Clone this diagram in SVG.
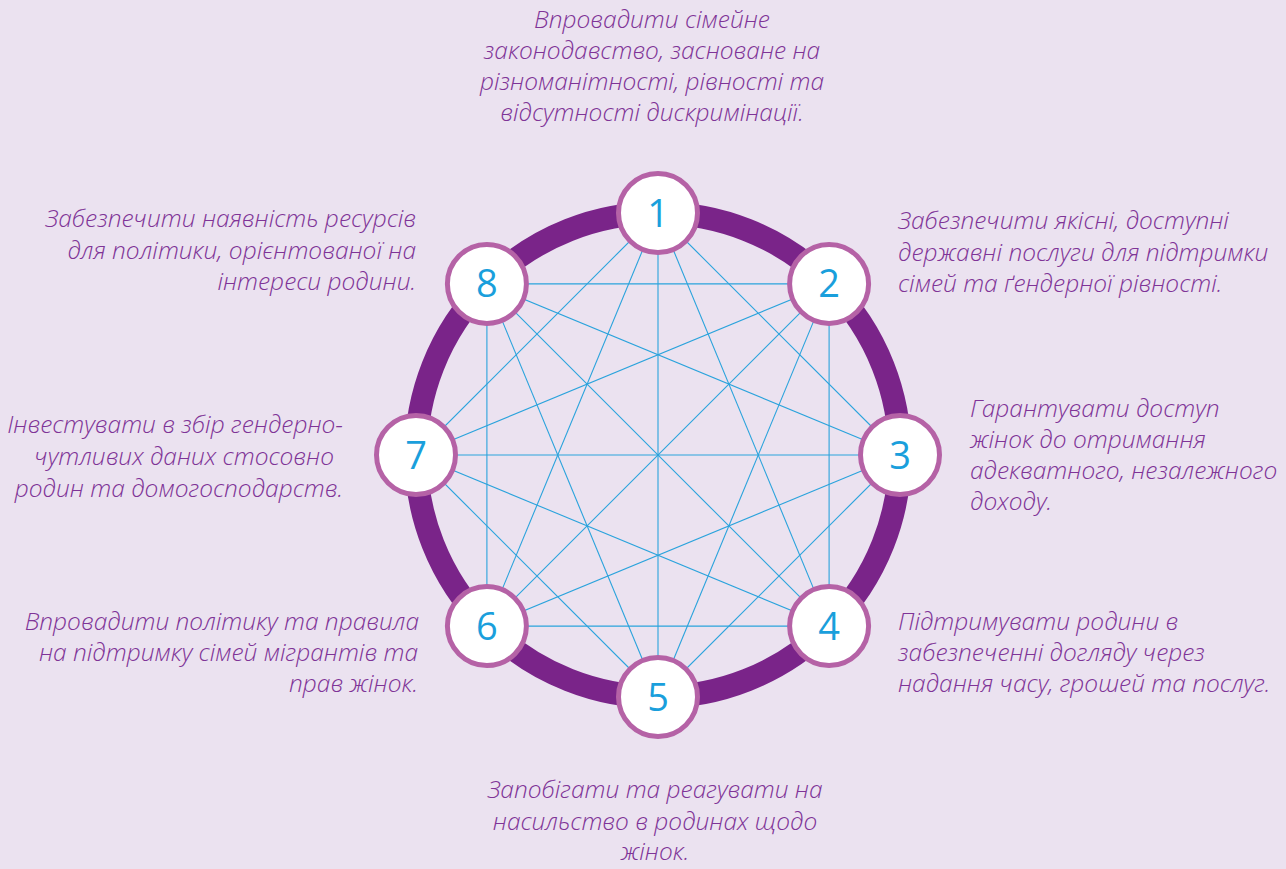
<svg xmlns="http://www.w3.org/2000/svg" width="1286" height="869" viewBox="0 0 1286 869">
<style>
.bg{fill:#ebe2f0}
.ring{fill:none;stroke:#7a2489;stroke-width:23}
.edge{stroke:#2aa3dc;stroke-width:1.1;fill:none}
.node circle{fill:#ffffff;stroke:#b562a6;stroke-width:5}
.num{font-family:"Open Sans","DejaVu Sans",sans-serif;font-size:38px;font-weight:400;fill:#1a9fdc;text-anchor:middle}
.lbl{font-family:"Open Sans","Liberation Sans",sans-serif;font-style:italic;font-weight:300;font-size:24.5px;fill:#7f3497}
.end{text-anchor:end}
.mid{text-anchor:middle}
</style>
<rect class="bg" x="0" y="0" width="1286" height="869"/>
<circle class="ring" cx="658" cy="455" r="242"/>
<g id="connectors">
<line class="edge" x1="658" y1="213" x2="900" y2="455"/>
<line class="edge" x1="658" y1="213" x2="829.1" y2="626.1"/>
<line class="edge" x1="658" y1="213" x2="658" y2="697"/>
<line class="edge" x1="658" y1="213" x2="486.9" y2="626.1"/>
<line class="edge" x1="658" y1="213" x2="416" y2="455"/>
<line class="edge" x1="829.1" y1="283.9" x2="829.1" y2="626.1"/>
<line class="edge" x1="829.1" y1="283.9" x2="658" y2="697"/>
<line class="edge" x1="829.1" y1="283.9" x2="486.9" y2="626.1"/>
<line class="edge" x1="829.1" y1="283.9" x2="416" y2="455"/>
<line class="edge" x1="829.1" y1="283.9" x2="486.9" y2="283.9"/>
<line class="edge" x1="900" y1="455" x2="658" y2="697"/>
<line class="edge" x1="900" y1="455" x2="486.9" y2="626.1"/>
<line class="edge" x1="900" y1="455" x2="416" y2="455"/>
<line class="edge" x1="900" y1="455" x2="486.9" y2="283.9"/>
<line class="edge" x1="829.1" y1="626.1" x2="486.9" y2="626.1"/>
<line class="edge" x1="829.1" y1="626.1" x2="416" y2="455"/>
<line class="edge" x1="829.1" y1="626.1" x2="486.9" y2="283.9"/>
<line class="edge" x1="658" y1="697" x2="416" y2="455"/>
<line class="edge" x1="658" y1="697" x2="486.9" y2="283.9"/>
<line class="edge" x1="486.9" y1="626.1" x2="486.9" y2="283.9"/>
</g>
<g id="node1" class="node"><circle cx="658" cy="213" r="39.5"/><text class="num" x="658" y="226.5">1</text></g>
<g id="node2" class="node"><circle cx="829.1" cy="283.9" r="39.5"/><text class="num" x="829.1" y="297.4">2</text></g>
<g id="node3" class="node"><circle cx="900" cy="455" r="39.5"/><text class="num" x="900" y="468.5">3</text></g>
<g id="node4" class="node"><circle cx="829.1" cy="626.1" r="39.5"/><text class="num" x="829.1" y="639.6">4</text></g>
<g id="node5" class="node"><circle cx="658" cy="697" r="39.5"/><text class="num" x="658" y="710.5">5</text></g>
<g id="node6" class="node"><circle cx="486.9" cy="626.1" r="39.5"/><text class="num" x="486.9" y="639.6">6</text></g>
<g id="node7" class="node"><circle cx="416" cy="455" r="39.5"/><text class="num" x="416" y="468.5">7</text></g>
<g id="node8" class="node"><circle cx="486.9" cy="283.9" r="39.5"/><text class="num" x="486.9" y="297.4">8</text></g>
<g id="label1">
<text class="lbl mid" x="652" y="28">Впровадити сімейне</text>
<text class="lbl mid" x="652" y="59">законодавство, засноване на</text>
<text class="lbl mid" x="652" y="90">різноманітності, рівності та</text>
<text class="lbl mid" x="652" y="121">відсутності дискримінації.</text>
</g>
<g id="label2">
<text class="lbl" x="898" y="229">Забезпечити якісні, доступні</text>
<text class="lbl" x="898" y="261">державні послуги для підтримки</text>
<text class="lbl" x="898" y="292">сімей та ґендерної рівності.</text>
</g>
<g id="label3">
<text class="lbl" x="970" y="417">Гарантувати доступ</text>
<text class="lbl" x="970" y="448">жінок до отримання</text>
<text class="lbl" x="970" y="479">адекватного, незалежного</text>
<text class="lbl" x="970" y="510">доходу.</text>
</g>
<g id="label4">
<text class="lbl" x="898" y="630">Підтримувати родини в</text>
<text class="lbl" x="898" y="661">забезпеченні догляду через</text>
<text class="lbl" x="898" y="692">надання часу, грошей та послуг.</text>
</g>
<g id="label5">
<text class="lbl mid" x="655" y="798">Запобігати та реагувати на</text>
<text class="lbl mid" x="655" y="830">насильство в родинах щодо</text>
<text class="lbl mid" x="655" y="860">жінок.</text>
</g>
<g id="label6">
<text class="lbl end" x="419" y="630">Впровадити політику та правила</text>
<text class="lbl end" x="418" y="661">на підтримку сімей мігрантів та</text>
<text class="lbl end" x="418" y="692">прав жінок.</text>
</g>
<g id="label7">
<text class="lbl end" x="343" y="433">Інвестувати в збір гендерно-</text>
<text class="lbl end" x="334" y="465">чутливих даних стосовно</text>
<text class="lbl end" x="343" y="497">родин та домогосподарств.</text>
</g>
<g id="label8">
<text class="lbl end" x="416" y="227">Забезпечити наявність ресурсів</text>
<text class="lbl end" x="416" y="259">для політики, орієнтованої на</text>
<text class="lbl end" x="416" y="290">інтереси родини.</text>
</g>
</svg>
